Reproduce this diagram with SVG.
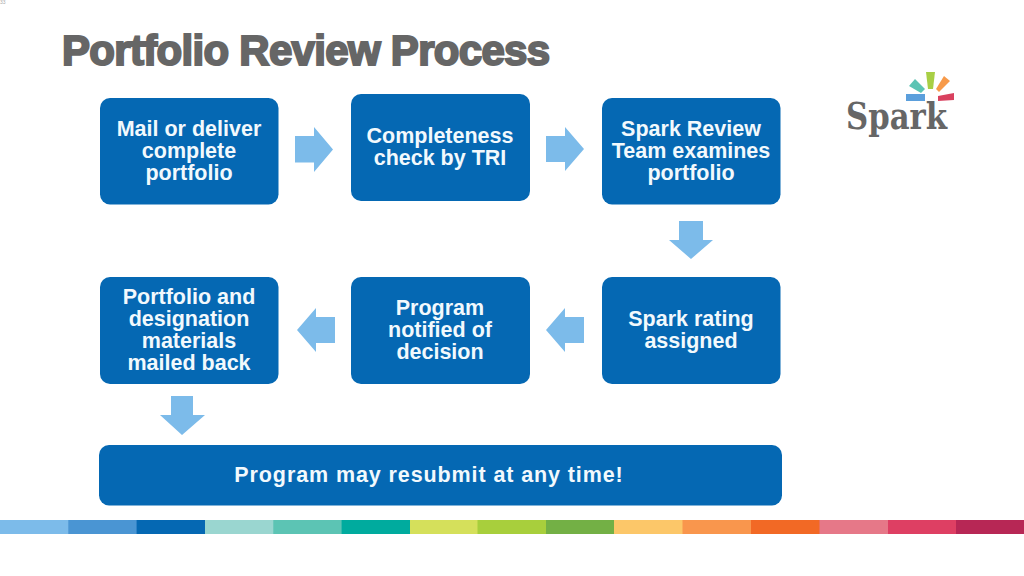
<svg xmlns="http://www.w3.org/2000/svg" width="1024" height="576" viewBox="0 0 1024 576">
<style>
.box{fill:#0568b3}
.arr{fill:#7cbbea}
.t{font-family:"Liberation Sans",Arial,sans-serif;font-weight:700;font-size:21.5px;fill:#f2f9fd;text-anchor:middle}
.title{font-family:"Liberation Sans",Arial,sans-serif;font-weight:700;font-size:42px;fill:#666;stroke:#666;stroke-width:2px;letter-spacing:-.7px}
</style>
<rect width="1024" height="576" fill="#fff"/>
<text x="0" y="4" font-family="Liberation Sans,sans-serif" font-size="5" fill="#aaa">33</text>
<text class="title" x="62" y="65">Portfolio Review Process</text>
<g id="connectors" class="arr">
<path d="M295 136H314V127L333 149.500 314 172V162.500H295Z"/>
<path d="M546 136H565V127L584 149 565 171V162H546Z"/>
<path d="M679 221H703V240H713L691 259 669 240H679Z"/>
<path d="M584 317H565V308L546 330 565 352V343H584Z"/>
<path d="M335 317H316V308L297 330 316 352V343H335Z"/>
<path d="M171 396H193V415H205L182 435 160 415H171Z"/>
</g>
<g id="n1"><rect class="box" x="100" y="98" width="178.500" height="106.500" rx="10"/><text class="t" x="189" y="136">Mail or deliver</text><text class="t" x="189" y="158">complete</text><text class="t" x="189" y="180">portfolio</text></g>
<g id="n2"><rect class="box" x="351" y="94" width="179" height="107" rx="10"/><text class="t" x="440" y="143">Completeness</text><text class="t" x="440" y="165">check by TRI</text></g>
<g id="n3"><rect class="box" x="602" y="98" width="178.500" height="106.500" rx="10"/><text class="t" x="691" y="136">Spark Review</text><text class="t" x="691" y="158">Team examines</text><text class="t" x="691" y="180">portfolio</text></g>
<g id="n4"><rect class="box" x="602" y="277" width="178.500" height="107" rx="10"/><text class="t" x="691" y="326">Spark rating</text><text class="t" x="691" y="348">assigned</text></g>
<g id="n5"><rect class="box" x="351" y="277" width="179" height="107" rx="10"/><text class="t" x="440" y="315">Program</text><text class="t" x="440" y="337">notified of</text><text class="t" x="440" y="359">decision</text></g>
<g id="n6"><rect class="box" x="100" y="277" width="178.500" height="107" rx="10"/><text class="t" x="189" y="304">Portfolio and</text><text class="t" x="189" y="326">designation</text><text class="t" x="189" y="348">materials</text><text class="t" x="189" y="370">mailed back</text></g>
<g id="n7"><rect class="box" x="99" y="445" width="683" height="60.500" rx="10"/><text x="429" y="482" text-anchor="middle" font-family="Liberation Sans,sans-serif" font-weight="700" font-size="21.500" letter-spacing=".9" fill="#f2f9fd">Program may resubmit at any time!</text></g>
<g id="logo">
<path d="M909 86l6-7 10 10-4 4z" fill="#5cc4b4"/>
<path d="M926 72h9l-2 17h-5z" fill="#a8cf45"/>
<path d="M936 89l8-13 6 5-11 11z" fill="#f79a4a"/>
<rect x="906" y="94" width="19" height="7" fill="#5b9fdc"/>
<path d="M938 96l16-3v7l-16 1z" fill="#d9415f"/>
<text x="846" y="129" font-family="DejaVu Serif,serif" font-weight="700" font-size="37" fill="#666" textLength="101" lengthAdjust="spacingAndGlyphs">Spark</text>
</g>
<g id="band">
<rect x="0" y="520" width="69" height="14" fill="#7cbbea"/><rect x="68.300" y="520" width="69" height="14" fill="#4a95d3"/><rect x="136.600" y="520" width="69" height="14" fill="#0568b3"/><rect x="205" y="520" width="69" height="14" fill="#9ad6d0"/><rect x="273.300" y="520" width="69" height="14" fill="#5cc4b4"/><rect x="341.600" y="520" width="69" height="14" fill="#00ab9e"/><rect x="410" y="520" width="68" height="14" fill="#d5e05b"/><rect x="477.500" y="520" width="69" height="14" fill="#a8cf3c"/><rect x="546" y="520" width="69" height="14" fill="#73b045"/><rect x="614" y="520" width="69" height="14" fill="#fcc769"/><rect x="682.500" y="520" width="69" height="14" fill="#f9964d"/><rect x="751" y="520" width="69" height="14" fill="#f26925"/><rect x="819.500" y="520" width="69" height="14" fill="#e67888"/><rect x="888" y="520" width="68" height="14" fill="#de3f63"/><rect x="956" y="520" width="68" height="14" fill="#b72755"/>
</g>
</svg>
